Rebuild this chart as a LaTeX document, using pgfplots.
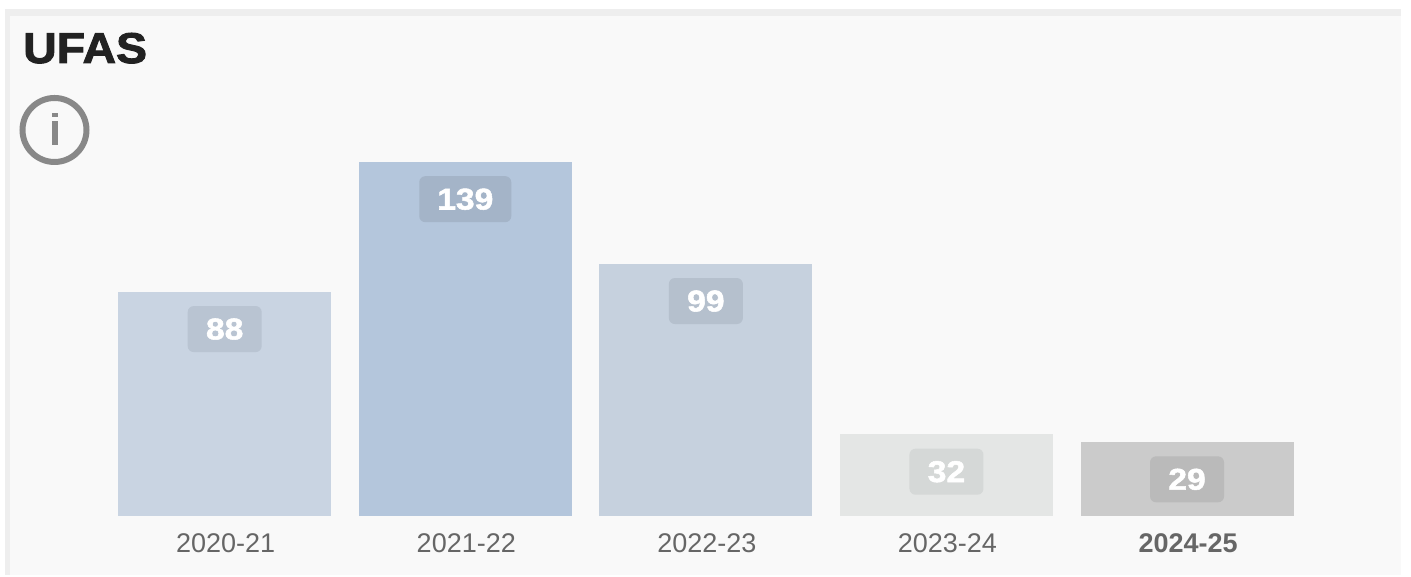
\documentclass[border=0pt]{standalone}
\usepackage{pgfplots}
\pgfplotsset{compat=1.18}
\usepackage{fontspec}
\setmainfont{Liberation Sans}
\newfontfamily\heavy[FakeBold=2.2,FakeStretch=1.08]{Liberation Sans Bold}
\newfontfamily\heavyw[FakeBold=1.8,FakeStretch=1.12]{Liberation Sans Bold}
\definecolor{panel}{HTML}{F9F9F9}
\definecolor{edge}{HTML}{EEEEEE}
\definecolor{ink}{HTML}{222222}
\definecolor{tick}{HTML}{666666}
\definecolor{icon}{HTML}{888888}
\definecolor{barA}{HTML}{C9D4E2}
\definecolor{barB}{HTML}{B4C6DC}
\definecolor{barC}{HTML}{C6D1DE}
\definecolor{barD}{HTML}{E4E6E5}
\definecolor{barE}{HTML}{CBCBCB}
\definecolor{badA}{HTML}{B9C4D2}
\definecolor{badB}{HTML}{A4B4C8}
\definecolor{badC}{HTML}{B5C0CD}
\definecolor{badD}{HTML}{D5D8D7}
\definecolor{badE}{HTML}{BABABA}
\begin{document}
\begin{tikzpicture}[x=1pt,y=1pt]
\path[use as bounding box] (0,0) rectangle (1411,577);
\fill[white] (0,0) rectangle (1411,577);
\fill[edge] (5,2) rectangle (1401,568);
\fill[panel] (10,2) rectangle (1401,561);
\node[anchor=base west,inner sep=0pt,text=ink,font=\heavy\fontsize{43}{43}\selectfont] at (23,514) {UFAS};
\draw[icon,line width=6pt] (54.5,447) circle (32);
\fill[icon] (51.5,460) rectangle (57.5,464);
\fill[icon] (51.5,432) rectangle (57.5,456);
\begin{axis}[
  at={(104.4pt,61pt)},anchor=south west,
  scale only axis,width=1203pt,height=354pt,
  xmin=-0.5,xmax=4.5,ymin=0,ymax=139,
  clip=false,
  axis line style={draw=none},
  major tick length=0pt,
  ytick=\empty,
  xtick={0,1,2,3,4},
  xticklabels={2020-21,2021-22,2022-23,2023-24,\bfseries 2024-25},
  xticklabel style={font=\fontsize{27}{27}\selectfont,text=tick,anchor=base,yshift=-37pt,xshift=1pt},
  ybar,bar width=213pt,bar shift=0pt,
  nodes near coords,
  /pgf/number format/assume math mode=true,
  point meta=y,
  every axis plot/.append style={draw=none},
]
\pgfplotsset{lab/.style 2 args={nodes near coords style={anchor=north,yshift=-14pt,fill=#1,rounded corners=6pt,minimum width=#2,minimum height=46pt,inner sep=0pt,text=white,font=\heavyw\fontsize{30}{30}\selectfont}}}
\addplot[fill=barA,lab={badA}{74pt}] coordinates {(0,88)};
\addplot[fill=barB,lab={badB}{92pt}] coordinates {(1,139)};
\addplot[fill=barC,lab={badC}{74pt}] coordinates {(2,99)};
\addplot[fill=barD,lab={badD}{74pt}] coordinates {(3,32)};
\addplot[fill=barE,lab={badE}{74pt}] coordinates {(4,29)};
\end{axis}
\end{tikzpicture}
\end{document}
